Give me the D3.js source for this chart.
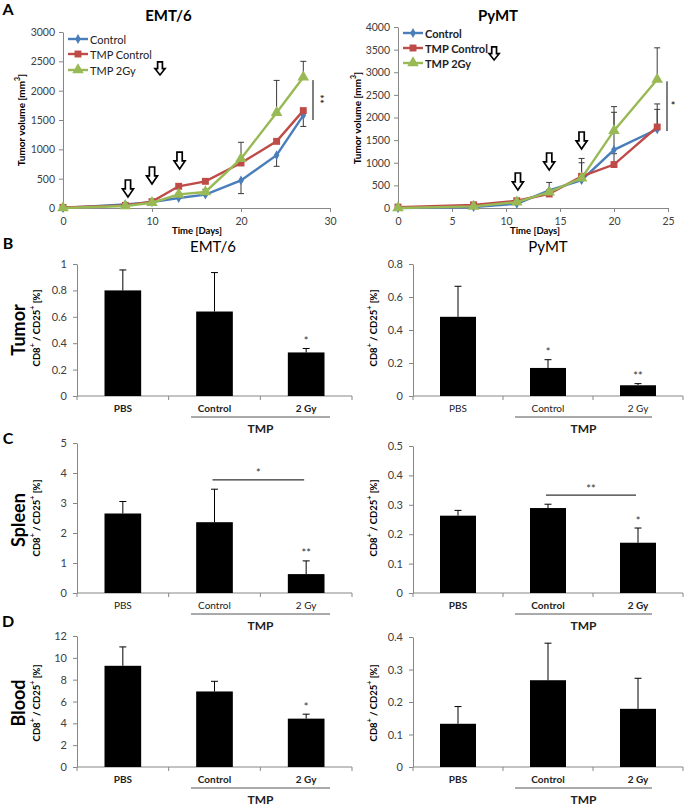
<!DOCTYPE html>
<html><head><meta charset="utf-8">
<script src="https://cdn.jsdelivr.net/npm/d3@7"></script>
<style>body{margin:0;background:#fff} svg{display:block;font-family:Lato,"Open Sans",sans-serif}</style>
</head><body><svg id="c" width="685" height="807"></svg>
<script>
// ---------------- DATA ----------------
const seriesNames = ["Control", "TMP Control", "TMP 2Gy"];

const emtDays = [0, 7, 10, 13, 16, 20, 24, 27];
const emtControl = [0, 62, 100, 170, 227, 470, 900, 1580];
const emtTmpControl = [10, 45, 108, 370, 455, 767, 1136, 1660];
const emtTmp2Gy = [0, 35, 90, 233, 273, 840, 1625, 2230];
const emtControlErrMinus = [0, 0, 0, 0, 0, 225, 190, 190];
const emtTmp2GyErrPlus = [0, 0, 0, 20, 45, 280, 550, 270];
const emtArrowDays = [7.3, 10, 13.1, 10.9];
const emtArrowTops = [477, 699, 954, 2490];
const emtXTicks = [0, 10, 20, 30];
const emtYTicks = [0, 500, 1000, 1500, 2000, 2500, 3000];

const pymtDays = [0, 7, 11, 14, 17, 20, 24];
const pymtControl = [0, 20, 95, 390, 615, 1285, 1740];
const pymtTmpControl = [20, 70, 160, 310, 700, 960, 1790];
const pymtTmp2Gy = [0, 35, 130, 350, 660, 1710, 2840];
const pymtControlErrPlus = [0, 0, 30, 175, 480, 830, 440];
const pymtTmpControlErrPlus = [0, 0, 0, 0, 300, 240, 510];
const pymtTmp2GyErrPlus = [0, 0, 0, 50, 60, 530, 700];
const pymtArrowDays = [11.1, 14, 17, 8.9];
const pymtArrowTops = [773, 1215, 1680, 3560];
const pymtXTicks = [0, 5, 10, 15, 20, 25];
const pymtYTicks = [0, 500, 1000, 1500, 2000, 2500, 3000, 3500, 4000];

const barCategories = ["PBS", "Control", "2 Gy"];
const groupLabel = "TMP";

const tumorEmt = [0.80, 0.64, 0.33];
const tumorEmtErr = [0.155, 0.295, 0.03];
const tumorEmtStars = ["", "", "*"];
const tumorPymt = [0.48, 0.17, 0.065];
const tumorPymtErr = [0.185, 0.05, 0.01];
const tumorPymtStars = ["", "*", "**"];

const spleenEmt = [2.65, 2.36, 0.63];
const spleenEmtErr = [0.40, 1.10, 0.44];
const spleenEmtStars = ["", "", "**"];
const spleenPymt = [0.263, 0.289, 0.171];
const spleenPymtErr = [0.018, 0.013, 0.05];
const spleenPymtStars = ["", "", "*"];

const bloodEmt = [9.27, 6.92, 4.43];
const bloodEmtErr = [1.73, 0.93, 0.41];
const bloodEmtStars = ["", "", "*"];
const bloodPymt = [0.133, 0.267, 0.179];
const bloodPymtErr = [0.053, 0.114, 0.094];
const bloodPymtStars = ["", "", ""];

// ---------------- DRAWING ----------------
const svg = d3.select("#c");
const AX = "#878787", TXT = "#404040";
const colors = ["#4A7EBB", "#BE4B48", "#98B954"];
const symbols = [d3.symbolDiamond, d3.symbolSquare, d3.symbolTriangle];
const symSizes = [28, 48, 58];

function styleAxis(a, fs) {
  a.select(".domain").attr("stroke", AX);
  a.selectAll(".tick line").attr("stroke", AX);
  a.selectAll(".tick text").attr("fill", TXT).style("font-size", fs + "px").style("font-family", "Lato,'Open Sans',sans-serif");
}

function label(x, y, txt, opts) {
  const t = svg.append("text").attr("x", x).attr("y", y)
    .attr("text-anchor", opts.anchor || "middle").attr("dominant-baseline", "central")
    .style("font-size", opts.size + "px").style("font-weight", opts.bold ? "bold" : "normal")
    .attr("fill", opts.fill || "#000").text(txt);
  if (opts.rotate) t.attr("transform", `rotate(${opts.rotate},${x},${y})`);
  return t;
}

function arrow(g, cx, top, w, h) {
  const s = w * 0.24, hy = top + h * 0.52;
  const p = `M${cx - s},${top}L${cx + s},${top}L${cx + s},${hy}L${cx + w / 2},${hy}L${cx},${top + h}L${cx - w / 2},${hy}L${cx - s},${hy}Z`;
  g.append("path").attr("d", p).attr("fill", "#fff").attr("stroke", "#000").attr("stroke-width", 1.7).attr("stroke-linejoin", "miter");
}

function lineChart(o) {
  const g = svg.append("g");
  const x = d3.scaleLinear().domain([0, o.xMax]).range([o.left, o.right]);
  const y = d3.scaleLinear().domain([0, o.yMax]).range([o.bottom, o.top]);
  const ya = g.append("g").attr("transform", `translate(${o.left},0)`)
    .call(d3.axisLeft(y).tickValues(o.yTicks).tickSize(4).tickPadding(4).tickSizeOuter(0).tickFormat(d3.format("d")));
  styleAxis(ya, 10.5);
  const xa = g.append("g").attr("transform", `translate(0,${o.bottom})`)
    .call(d3.axisBottom(x).tickValues(o.xTicks).tickSize(4).tickPadding(6).tickSizeOuter(0).tickFormat(d3.format("d")));
  styleAxis(xa, 10.5);

  o.series.forEach((s) => {
    o.days.forEach((d, i) => {
      const v = s.values[i];
      const ends = [];
      if (s.errPlus && s.errPlus[i]) ends.push(v + s.errPlus[i]);
      if (s.errMinus && s.errMinus[i]) ends.push(v - s.errMinus[i]);
      ends.forEach(e => {
        g.append("line").attr("x1", x(d)).attr("x2", x(d)).attr("y1", y(v)).attr("y2", y(e)).attr("stroke", "#3a3a3a").attr("stroke-width", 1);
        g.append("line").attr("x1", x(d) - 3).attr("x2", x(d) + 3).attr("y1", y(e)).attr("y2", y(e)).attr("stroke", "#3a3a3a").attr("stroke-width", 1);
      });
    });
  });
  o.series.forEach((s, si) => {
    const line = d3.line().x((v, i) => x(o.days[i])).y(v => y(v));
    g.append("path").attr("d", line(s.values)).attr("fill", "none").attr("stroke", colors[si]).attr("stroke-width", 2.4);
    g.selectAll(null).data(s.values).enter().append("path")
      .attr("d", d3.symbol().type(symbols[si]).size(symSizes[si]))
      .attr("transform", (v, i) => `translate(${x(o.days[i])},${y(v)})`)
      .attr("fill", colors[si]);
  });
  o.series.forEach((s, si) => {
    const ly = o.legendY[si];
    g.append("line").attr("x1", o.legendX).attr("x2", o.legendX + 20).attr("y1", ly).attr("y2", ly).attr("stroke", colors[si]).attr("stroke-width", 2.4);
    g.append("path").attr("d", d3.symbol().type(symbols[si]).size(symSizes[si])()).attr("transform", `translate(${o.legendX + 10},${ly})`).attr("fill", colors[si]);
    g.append("text").attr("x", o.legendX + 22).attr("y", ly).attr("dominant-baseline", "central")
      .style("font-size", "11px").style("font-weight", o.legendBold ? "bold" : "normal").attr("fill", "#222").text(seriesNames[si]);
  });
  o.arrowDays.forEach((d, i) => {
    const legendArrow = i === o.arrowDays.length - 1;
    arrow(g, x(d), y(o.arrowTops[i]), legendArrow ? 10 : 11, legendArrow ? 13 : 17);
  });
  g.append("line").attr("x1", o.sigX).attr("x2", o.sigX).attr("y1", y(o.sigRange[0])).attr("y2", y(o.sigRange[1])).attr("stroke", "#000").attr("stroke-width", 1);
  label(o.sigX + 6, y((o.sigRange[0] + o.sigRange[1]) / 2) - 1, o.sigText, { size: 11, rotate: o.sigRotate ? 90 : 0 });
  label((o.left + o.right) / 2 - 30 + o.titleShift, 15, o.title, { size: 15, bold: true });
  const yl = svg.append("text").attr("transform", `translate(${o.ylabX},${o.ylabY}) rotate(-90)`)
    .attr("text-anchor", "middle").attr("dominant-baseline", "central")
    .style("font-size", "10px").style("font-weight", "bold");
  yl.append("tspan").text("Tumor volume [mm");
  yl.append("tspan").text("3").style("font-size", "7px").attr("baseline-shift", "super");
  yl.append("tspan").text("]");
  label(o.xlabX, 230, "Time [Days]", { size: 9.5, bold: true });
}

lineChart({
  left: 63, right: 330, top: 32, bottom: 208, xMax: 30, yMax: 3000,
  xTicks: emtXTicks, yTicks: emtYTicks, days: emtDays,
  series: [
    { values: emtControl, errMinus: emtControlErrMinus },
    { values: emtTmpControl },
    { values: emtTmp2Gy, errPlus: emtTmp2GyErrPlus }
  ],
  legendX: 68, legendY: [39, 54, 70], legendBold: false,
  arrowDays: emtArrowDays, arrowTops: emtArrowTops,
  sigX: 313, sigRange: [1500, 2180], sigText: "**", sigRotate: true,
  title: "EMT/6", titleShift: 2, ylabX: 21, ylabY: 120, xlabX: 197
});
lineChart({
  left: 398, right: 668, top: 27, bottom: 208, xMax: 25, yMax: 4000,
  xTicks: pymtXTicks, yTicks: pymtYTicks, days: pymtDays,
  series: [
    { values: pymtControl, errPlus: pymtControlErrPlus },
    { values: pymtTmpControl, errPlus: pymtTmpControlErrPlus },
    { values: pymtTmp2Gy, errPlus: pymtTmp2GyErrPlus }
  ],
  legendX: 403, legendY: [33, 48, 63], legendBold: true,
  arrowDays: pymtArrowDays, arrowTops: pymtArrowTops,
  sigX: 667, sigRange: [1700, 2800], sigText: "*", sigRotate: false,
  title: "PyMT", titleShift: -5, ylabX: 357, ylabY: 118, xlabX: 535
});

label(8, 8, "A", { size: 16, bold: true });

function barChart(o) {
  const g = svg.append("g");
  const x = d3.scaleBand().domain(barCategories).range([o.left, o.right]).paddingInner(0.6).paddingOuter(0.3);
  const y = d3.scaleLinear().domain([0, o.yMax]).range([o.bottom, o.top]);
  const ticks = d3.range(0, o.yMax + o.yStep / 2, o.yStep).map(v => +v.toFixed(3));
  const ya = g.append("g").attr("transform", `translate(${o.left},0)`)
    .call(d3.axisLeft(y).tickValues(ticks).tickSize(4).tickPadding(6).tickSizeOuter(0).tickFormat(d3.format("~g")));
  styleAxis(ya, 11);
  g.append("line").attr("x1", o.left).attr("x2", o.right).attr("y1", o.bottom).attr("y2", o.bottom).attr("stroke", AX);
  const bounds = [o.left].concat(barCategories.map(c => x(c) + x.bandwidth() + x.step() * 0.3));
  bounds.forEach(b => g.append("line").attr("x1", b).attr("x2", b).attr("y1", o.bottom).attr("y2", o.bottom + 4).attr("stroke", AX));
  g.selectAll(null).data(o.values).enter().append("rect")
    .attr("x", (v, i) => x(barCategories[i])).attr("width", x.bandwidth())
    .attr("y", v => y(v)).attr("height", v => o.bottom - y(v)).attr("fill", "#000");
  o.values.forEach((v, i) => {
    const cx = x(barCategories[i]) + x.bandwidth() / 2;
    const e = v + o.errs[i];
    g.append("line").attr("x1", cx).attr("x2", cx).attr("y1", y(v)).attr("y2", y(e)).attr("stroke", "#000").attr("stroke-width", 1);
    g.append("line").attr("x1", cx - 3.5).attr("x2", cx + 3.5).attr("y1", y(e)).attr("y2", y(e)).attr("stroke", "#000").attr("stroke-width", 1);
    if (o.stars[i]) label(cx, y(e) - 8, o.stars[i], { size: 11, fill: "#333" });
  });
  if (o.bracket) {
    const c1 = x(barCategories[1]) + x.bandwidth() / 2 - 2, c2 = x(barCategories[2]) + x.bandwidth() / 2 - 2;
    g.append("line").attr("x1", c1).attr("x2", c2).attr("y1", y(o.bracket.value)).attr("y2", y(o.bracket.value)).attr("stroke", "#000").attr("stroke-width", 1);
    label((c1 + c2) / 2, y(o.bracket.value) - 7, o.bracket.text, { size: 11, fill: "#333" });
  }
  barCategories.forEach(c => label(x(c) + x.bandwidth() / 2, o.bottom + 12, c, { size: 10, bold: o.catBold, fill: "#222" }));
  g.append("line").attr("x1", o.tmpLine[0]).attr("x2", o.tmpLine[1]).attr("y1", o.bottom + 21).attr("y2", o.bottom + 21).attr("stroke", "#555").attr("stroke-width", 1);
  label((o.tmpLine[0] + o.tmpLine[1]) / 2, o.bottom + 32, groupLabel, { size: 12, bold: true, fill: "#222" });
  const yl = svg.append("text").attr("transform", `translate(${o.ylabX},${o.ylabY}) rotate(-90)`)
    .attr("text-anchor", "middle").attr("dominant-baseline", "central")
    .style("font-size", "9.5px").style("font-weight", "bold");
  yl.append("tspan").text("CD8");
  yl.append("tspan").text("+").style("font-size", "7px").attr("baseline-shift", "super");
  yl.append("tspan").text(" / CD25");
  yl.append("tspan").text("+").style("font-size", "7px").attr("baseline-shift", "super");
  yl.append("tspan").text(" [%]");
  if (o.title) label(o.title[1], o.title[2], o.title[0], { size: 15 });
  if (o.organ) label(18, o.organ[1], o.organ[0], { size: 18, bold: true, rotate: -90 });
  if (o.letter) label(8, o.letter[1], o.letter[0], { size: 16, bold: true });
}

const L = { left: 77, right: 352, ylabX: 36, tmpLine: [191, 330] };
const R = { left: 413, right: 683, ylabX: 373, tmpLine: [515, 652] };

barChart(Object.assign({}, L, { top: 264, bottom: 396, yMax: 1, yStep: 0.2, values: tumorEmt, errs: tumorEmtErr, stars: tumorEmtStars,
  catBold: true, ylabY: 328, title: ["EMT/6", 213, 246], organ: ["Tumor", 330], letter: ["B", 242] }));
barChart(Object.assign({}, R, { top: 264, bottom: 396, yMax: 0.8, yStep: 0.2, values: tumorPymt, errs: tumorPymtErr, stars: tumorPymtStars,
  catBold: false, ylabY: 328, title: ["PyMT", 548, 246] }));

barChart(Object.assign({}, L, { top: 443, bottom: 593, yMax: 5, yStep: 1, values: spleenEmt, errs: spleenEmtErr, stars: spleenEmtStars,
  bracket: { value: 3.77, text: "*" }, catBold: false, ylabY: 518, organ: ["Spleen", 520], letter: ["C", 437] }));
barChart(Object.assign({}, R, { top: 446, bottom: 593, yMax: 0.5, yStep: 0.1, values: spleenPymt, errs: spleenPymtErr, stars: spleenPymtStars,
  bracket: { value: 0.333, text: "**" }, catBold: true, ylabY: 518 }));

barChart(Object.assign({}, L, { top: 636, bottom: 767, yMax: 12, yStep: 2, values: bloodEmt, errs: bloodEmtErr, stars: bloodEmtStars,
  catBold: true, ylabY: 703, organ: ["Blood", 703], letter: ["D", 620] }));
barChart(Object.assign({}, R, { top: 637, bottom: 767, yMax: 0.4, yStep: 0.1, values: bloodPymt, errs: bloodPymtErr, stars: bloodPymtStars,
  catBold: true, ylabY: 703 }));
</script></body></html>
